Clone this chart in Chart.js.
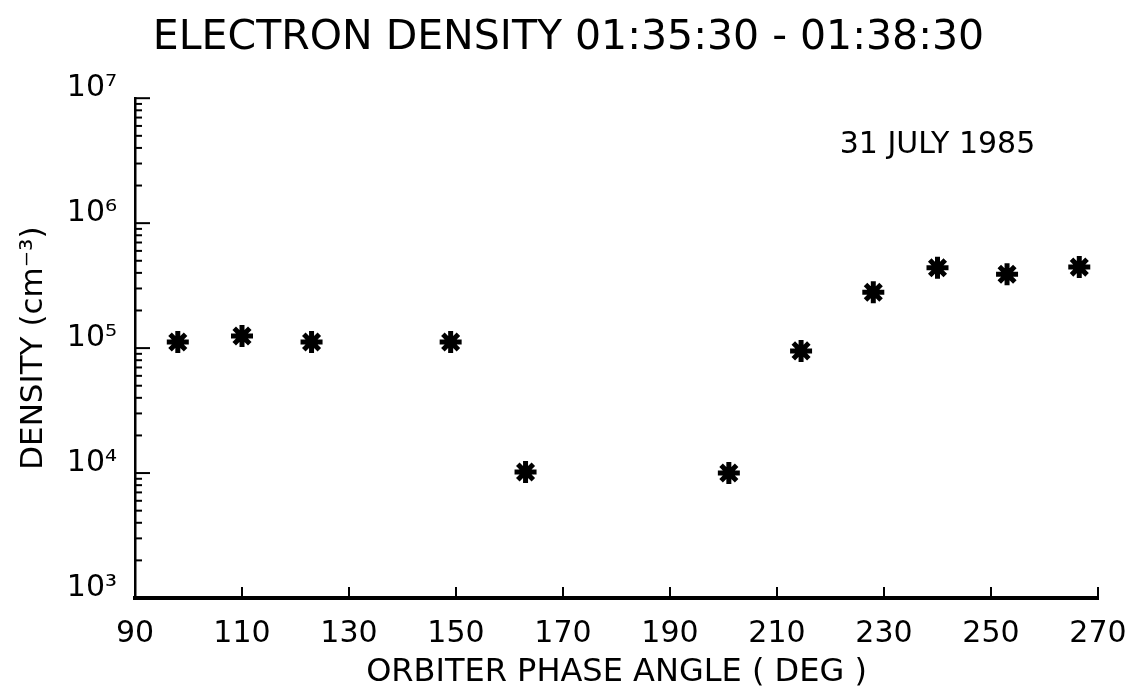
<!DOCTYPE html>
<html lang="en">
<head>
<meta charset="UTF-8">
<title>Electron Density</title>
<script src="https://cdn.jsdelivr.net/npm/chart.js"></script>
<style>
    html, body { margin: 0; padding: 0; background: #fff; }
    canvas { display: block; }
</style>
</head>
<body>
<canvas id="chart" width="1137" height="694"></canvas>
<script>
    // values
    const phaseAngle = [98, 110, 123, 149, 163, 201, 214.5, 228, 240, 253, 266.5];
    const density = [1.12e5, 1.25e5, 1.12e5, 1.12e5, 1.02e4, 1.0e4, 9.5e4, 2.8e5, 4.4e5, 3.9e5, 4.45e5];

    const xTicks = [90, 110, 130, 150, 170, 190, 210, 230, 250, 270];
    const yDecades = [1e3, 1e4, 1e5, 1e6, 1e7];
    const yTickLabels = ["10³", "10⁴", "10⁵", "10⁶", "10⁷"];

    const dateLabel = "31 JULY 1985";
    const dateAt = { x: 240, y: 4.2e6 };

    const FONT = "'DejaVu Sans', sans-serif";
    Chart.defaults.font.family = FONT;
    Chart.defaults.color = "#000";

    function decadeIndex(v) {
        return yDecades.findIndex(d => Math.abs(d - v) < 1e-6 * d);
    }

    // tick marks pointing into the plot, like the original
    const innerTicks = {
        id: "innerTicks",
        afterDraw(chart) {
            const { ctx, scales: { x, y } } = chart;
            ctx.save();
            ctx.strokeStyle = "#000";
            ctx.lineWidth = 2;
            yDecades.forEach(d => {
                for (let m = 1; m <= 9; m++) {
                    const v = d * m;
                    if (v > yDecades[yDecades.length - 1]) break;
                    const py = y.getPixelForValue(v);
                    const len = m === 1 ? 15 : 7;
                    ctx.beginPath();
                    ctx.moveTo(y.right, py);
                    ctx.lineTo(y.right + len, py);
                    ctx.stroke();
                }
            });
            xTicks.forEach(t => {
                const px = x.getPixelForValue(t);
                ctx.beginPath();
                ctx.moveTo(px, x.top);
                ctx.lineTo(px, x.top - 11);
                ctx.stroke();
            });

            // date note
            ctx.fillStyle = "#000";
            ctx.font = "30px " + FONT;
            ctx.textAlign = "center";
            ctx.textBaseline = "middle";
            ctx.fillText(dateLabel, x.getPixelForValue(dateAt.x), y.getPixelForValue(dateAt.y));
            ctx.restore();
        }
    };

    const points = phaseAngle.map((a, i) => ({ x: a, y: density[i] }));

    new Chart(document.getElementById("chart"), {
        type: "scatter",
        data: {
            datasets: [{
                data: points,
                pointStyle: "star",
                pointRadius: 11,
                borderWidth: 5,
                borderColor: "#000",
                backgroundColor: "#000",
                showLine: false
            }]
        },
        options: {
            responsive: false,
            animation: false,
            layout: { padding: 0 },
            plugins: {
                legend: { display: false },
                tooltip: { enabled: false },
                title: {
                    display: true,
                    text: "ELECTRON DENSITY 01:35:30 - 01:38:30",
                    font: { size: 41, weight: "normal" },
                    color: "#000",
                    padding: { top: 14, bottom: 35 }
                }
            },
            scales: {
                x: {
                    type: "linear",
                    min: 90,
                    max: 270,
                    afterFit(scale) {
                        scale.height = 96;
                        scale.paddingRight = 39; // room right of the axis end
                    },
                    afterBuildTicks(scale) { scale.ticks = xTicks.map(v => ({ value: v })); },
                    grid: { display: false },
                    border: { display: true, color: "#000", width: 4 },
                    ticks: { font: { size: 30 }, padding: 10, maxRotation: 0, autoSkip: false },
                    title: {
                        display: true,
                        text: "ORBITER PHASE ANGLE ( DEG )",
                        font: { size: 32 },
                        padding: { top: 0, bottom: 2 }
                    }
                },
                y: {
                    type: "logarithmic",
                    min: 1e3,
                    max: 1e7,
                    afterFit(scale) { scale.width = 135; },
                    grid: { display: false },
                    border: { display: true, color: "#000", width: 2.5 },
                    ticks: {
                        font: { size: 30 },
                        padding: 10,
                        labelOffset: -10,
                        autoSkip: false,
                        callback: v => decadeIndex(v) >= 0 ? yTickLabels[decadeIndex(v)] : ""
                    },
                    title: {
                        display: true,
                        text: "DENSITY (cm⁻³)",
                        font: { size: 31 },
                        padding: { top: 15, bottom: 0 }
                    }
                }
            }
        },
        plugins: [innerTicks]
    });
</script>
</body>
</html>
